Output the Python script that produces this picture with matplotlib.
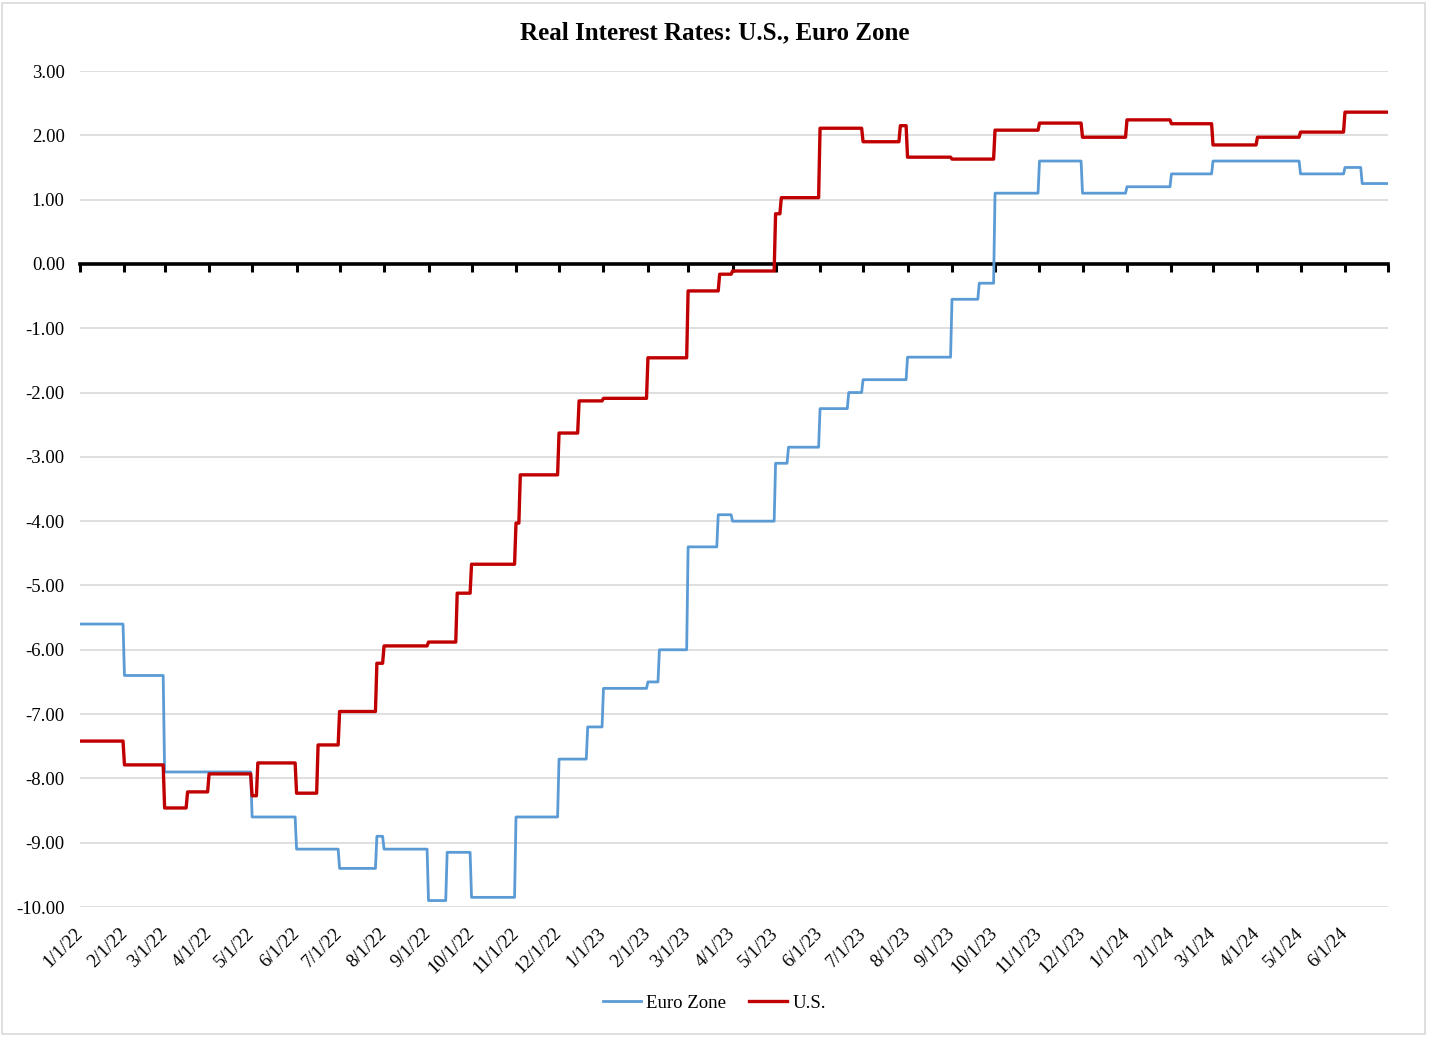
import matplotlib
matplotlib.use('Agg')
import matplotlib.pyplot as plt
import pandas as pd
from matplotlib.patches import Rectangle

plt.rcParams['font.family'] = ['Liberation Serif', 'DejaVu Serif']

# Step change dates and levels (held until the next change)
euro_dates = ['2022-01-01', '2022-02-01', '2022-03-01', '2022-05-01', '2022-06-01',
              '2022-07-01', '2022-07-27', '2022-08-01', '2022-09-01', '2022-09-14',
              '2022-10-01', '2022-11-01', '2022-12-01', '2022-12-21', '2023-01-01',
              '2023-02-01', '2023-02-09', '2023-03-01', '2023-03-22', '2023-04-01',
              '2023-05-01', '2023-05-10', '2023-06-01', '2023-06-21', '2023-07-01',
              '2023-08-01', '2023-09-01', '2023-09-20', '2023-10-01', '2023-11-01',
              '2023-12-01', '2024-01-01', '2024-02-01', '2024-03-01', '2024-05-01',
              '2024-06-01', '2024-06-13']
euro_vals = [-5.60, -6.40, -7.90, -8.60, -9.10,
             -9.40, -8.90, -9.10, -9.90, -9.15,
             -9.85, -8.60, -7.70, -7.20, -6.60,
             -6.50, -6.00, -4.40, -3.90, -4.00,
             -3.10, -2.85, -2.25, -2.00, -1.80,
             -1.45, -0.55, -0.30, 1.10, 1.60,
             1.10, 1.20, 1.40, 1.60, 1.40,
             1.50, 1.25]

us_dates = ['2022-01-01', '2022-02-01', '2022-03-01', '2022-03-17', '2022-04-01',
            '2022-05-01', '2022-05-05', '2022-06-01', '2022-06-16', '2022-07-01',
            '2022-07-27', '2022-08-01', '2022-09-01', '2022-09-21', '2022-10-01',
            '2022-11-01', '2022-11-04', '2022-12-01', '2022-12-15', '2023-01-01',
            '2023-02-01', '2023-03-01', '2023-03-23', '2023-04-01', '2023-05-01',
            '2023-05-05', '2023-06-01', '2023-07-01', '2023-07-27', '2023-08-01',
            '2023-09-01', '2023-10-01', '2023-11-01', '2023-12-01', '2024-01-01',
            '2024-02-01', '2024-03-01', '2024-04-01', '2024-05-01', '2024-06-01']
us_vals = [-7.42, -7.79, -8.46, -8.21, -7.93,
           -8.27, -7.76, -8.23, -7.48, -6.96,
           -6.21, -5.94, -5.88, -5.12, -4.67,
           -4.03, -3.28, -2.63, -2.13, -2.09,
           -1.46, -0.42, -0.16, -0.11, 0.78,
           1.03, 2.11, 1.90, 2.15, 1.66,
           1.63, 2.08, 2.19, 1.97, 2.24,
           2.18, 1.85, 1.97, 2.05, 2.36]

end_date = '2024-07-01'
month_ticks = pd.date_range('2022-01-01', end_date, freq='MS')
tick_labels = [f'{d.month}/{d.day}/{d.year % 100}' for d in month_ticks[:-1]]


def daily(dates, vals):
    s = pd.Series(vals, index=pd.to_datetime(dates))
    idx = pd.date_range(dates[0], end_date, freq='D')
    return s.reindex(idx).ffill()


euro = daily(euro_dates, euro_vals)
us = daily(us_dates, us_vals)

fig = plt.figure(figsize=(14.29, 10.37), dpi=100)
ax = fig.add_axes([80 / 1429, 1 - 907 / 1037, 1308 / 1429, 836 / 1037])

fig.patches.append(Rectangle((2 / 1429, 3 / 1037), 1423 / 1429, 1031 / 1037,
                             transform=fig.transFigure, fill=False,
                             edgecolor='#d9d9d9', linewidth=1.2))

ax.plot(euro.index, euro.values, color='#5b9bd5', linewidth=2.0, label='Euro Zone', zorder=3)
ax.plot(us.index, us.values, color='#c00000', linewidth=2.4, label='U.S.', zorder=3)

ax.set_ylim(-10, 3)
ax.set_yticks(range(-10, 4))
ax.yaxis.set_major_formatter(plt.FormatStrFormatter('%.2f'))
ax.set_xlim(pd.Timestamp('2022-01-01'), pd.Timestamp(end_date))
ax.grid(axis='y', color='#d9d9d9', linewidth=1.2)
ax.set_axisbelow(True)
for sp in ax.spines.values():
    sp.set_visible(False)

ax.tick_params(axis='y', length=0, pad=11, labelsize=13.5)
ax.set_xticks(month_ticks[:-1])
ax.set_xticklabels(tick_labels, rotation=45, ha='right', va='center',
                   rotation_mode='anchor', fontsize=13.5)
ax.tick_params(axis='x', length=0, pad=17)

# horizontal axis crossing at zero with month tick marks
zero_ax = ax.secondary_xaxis(0, transform=ax.transData)
zero_ax.set_xticks(month_ticks)
zero_ax.set_xticklabels([])
zero_ax.tick_params(direction='out', length=6, width=2.2, color='black')
zero_ax.spines['bottom'].set_linewidth(2.6)
zero_ax.spines['bottom'].set_color('black')
zero_ax.set_zorder(2)

fig.text(0.5, 1 - 33 / 1037, 'Real Interest Rates: U.S., Euro Zone',
         ha='center', va='center', fontsize=18, fontweight='bold')

fig.legend(loc='center', bbox_to_anchor=(0.5, 1 - 1003 / 1037), ncol=2,
           frameon=False, fontsize=13.5, handlelength=2.0, handletextpad=0.3,
           columnspacing=1.2)

fig.savefig('out.png', dpi=100)
